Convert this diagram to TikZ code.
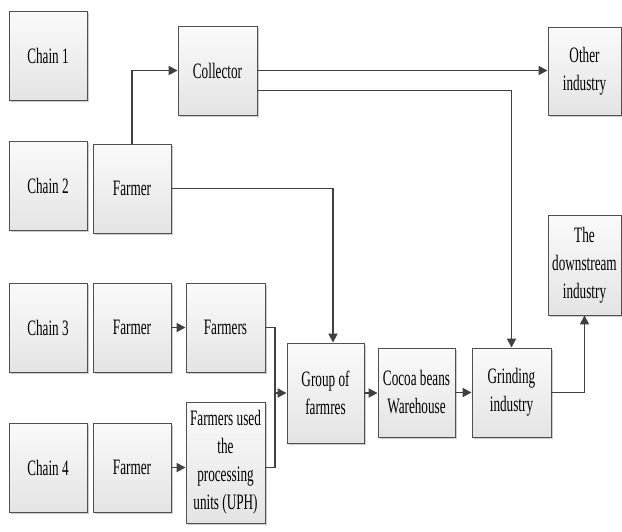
\documentclass[tikz,border=0pt]{standalone}
\usepackage{fontspec}
\newfontfamily\boxfont[FakeStretch=0.6]{Liberation Serif}
\usetikzlibrary{arrows.meta,shadows}
\definecolor{edge}{HTML}{505050}
\definecolor{wire}{HTML}{404040}
\definecolor{boxtop}{HTML}{FAFAFA}
\definecolor{boxbot}{HTML}{E4E4E4}
\tikzset{
  box/.style={draw=edge, line width=0.9pt, top color=boxtop, bottom color=boxbot,
    minimum width=78pt, minimum height=89pt, inner sep=1pt, align=center,
    font=\boxfont\fontsize{22}{28}\selectfont,
    drop shadow={shadow xshift=1.6pt, shadow yshift=-1.6pt, opacity=0.4, fill=gray}},
  wireline/.style={draw=wire, line width=1.8pt},
  arr/.style={wireline, -{Triangle[length=9pt,width=9pt]}}
}
\begin{document}
\begin{tikzpicture}[x=1pt,y=-1pt]
\useasboundingbox (0,0) rectangle (622,531);
% chains
\node[box] (c1) at (48,55.5) {Chain 1};
\node[box] (c2) at (48,186) {Chain 2};
\node[box] (c3) at (48,327.5) {Chain 3};
\node[box] (c4) at (48,467.5) {Chain 4};
% farmers
\node[box] (f2) at (132,188.5) {Farmer};
\node[box] (f3) at (132,327.5) {Farmer};
\node[box] (f4) at (132,467.5) {Farmer};
% others
\node[box, minimum width=79pt] (coll) at (217.5,70.5) {Collector};
\node[box, minimum width=73pt, minimum height=88pt] (other) at (584.5,71) {Other\\industry};
\node[box, minimum width=79pt] (fs3) at (225.5,327.5) {Farmers};
\node[box, minimum width=79pt, minimum height=121pt] (fs4) at (225.5,462.5) {Farmers used\\the\\processing\\units (UPH)};
\node[box, minimum width=77pt, minimum height=100pt] (grp) at (325.5,393) {Group of\\farmres};
\node[box, minimum width=77pt] (cocoa) at (416.5,392.5) {Cocoa beans\\Warehouse};
\node[box, minimum width=79pt] (grind) at (511.5,392.5) {Grinding\\industry};
\node[box, minimum width=73pt, minimum height=100pt] (down) at (584.5,265) {The\\downstream\\industry};
% connectors
\draw[arr] (f2.north) |- (coll.west);
\draw[arr] (coll.east) -- (coll.east -| other.west);
\draw[arr] ([yshift=-20pt]coll.east) -| (grind.north);
\draw[arr] (f2.east) -| ([xshift=7.5pt]grp.north);
\draw[arr] (f3.east) -- (fs3.west);
\draw[arr] (f4.east) -- (f4.east -| fs4.west);
\coordinate (j) at (275,393);
\draw[wireline] (fs3.east) -| (j);
\draw[wireline] (fs4.east |- f4.east) -| (j);
\draw[arr] (j) -- (grp.west);
\draw[arr] (grp.east) -- (grp.east -| cocoa.west);
\draw[arr] (cocoa.east) -- (grind.west);
\draw[arr] (grind.east) -| (down.south);
\end{tikzpicture}
\end{document}
